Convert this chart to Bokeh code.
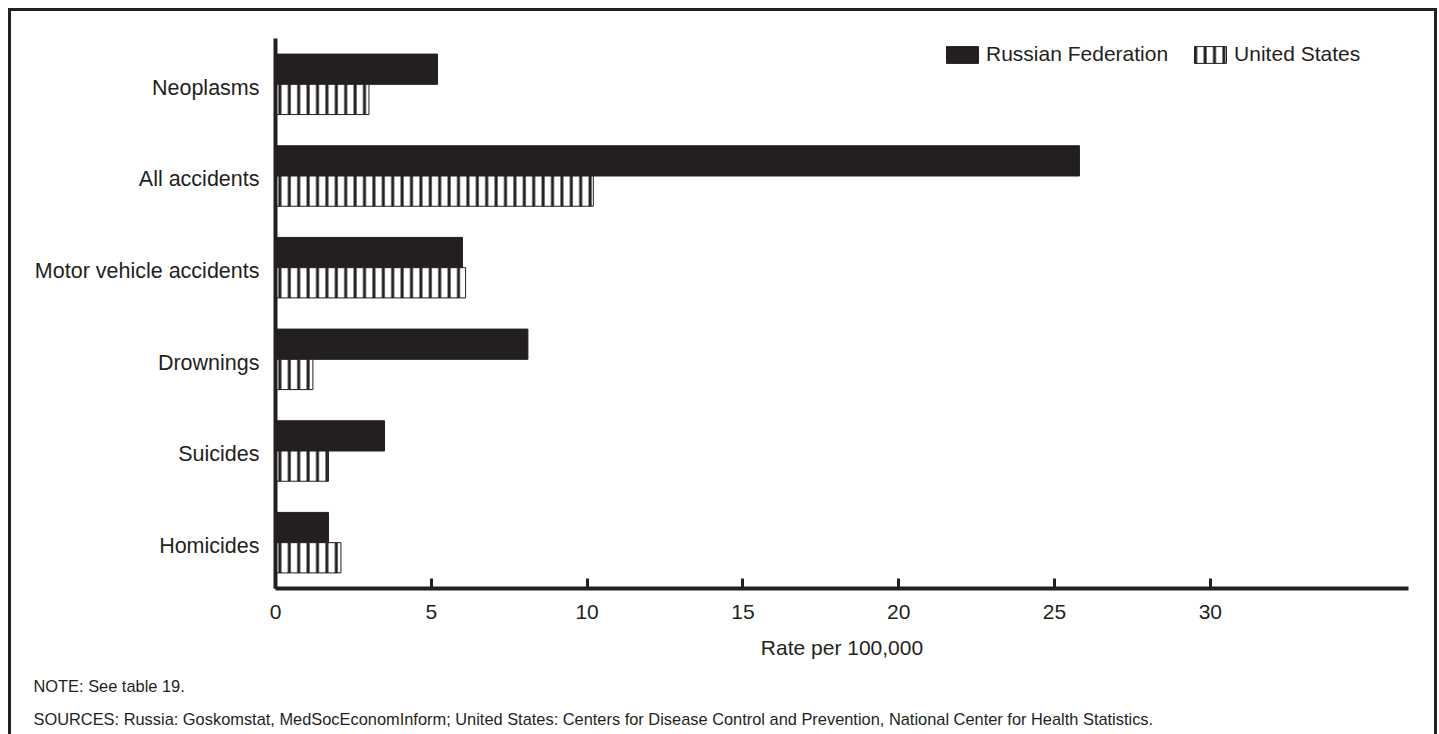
from bokeh.plotting import figure
from bokeh.models import Range1d, FixedTicker, Legend, LegendItem, Title, ColumnDataSource
from bokeh.embed import file_html
from bokeh.resources import INLINE

categories = ["Neoplasms", "All accidents", "Motor vehicle accidents", "Drownings", "Suicides", "Homicides"]
russia = [5.2, 25.8, 6.0, 8.1, 3.5, 1.7]
united_states = [3.0, 10.2, 6.1, 1.2, 1.7, 2.1]
x_ticks = [0, 5, 10, 15, 20, 25, 30]
series_names = ["Russian Federation", "United States"]
note_text = "NOTE: See table 19."
source_text = ("SOURCES: Russia: Goskomstat, MedSocEconomInform; United States: Centers for Disease "
               "Control and Prevention, National Center for Health Statistics.")

INK = "#231f20"
FONT = "Liberation Sans"

n = len(categories)
centers = [n - i - 0.5 for i in range(n)]
bar_h = 0.33
label_shift = 0.035  # labels sit a touch below the bar-pair centre

src_r = ColumnDataSource(dict(y=[c + bar_h / 2 for c in centers], right=russia))
src_u = ColumnDataSource(dict(y=[c - bar_h / 2 for c in centers], right=united_states))

p = figure(width=1429, height=726, output_backend="svg", toolbar_location=None,
           x_range=Range1d(0, 36.36), y_range=Range1d(0, n),
           min_border_left=264, min_border_right=32, min_border_top=27, min_border_bottom=149)
p.styles = {"border": "3px solid " + INK, "border-bottom-width": "0px",
            "margin-left": "8px", "margin-top": "8px"}
p.outline_line_color = None
p.xgrid.visible = False
p.ygrid.visible = False
p.background_fill_color = "white"
p.border_fill_color = "white"

r1 = p.hbar(y="y", right="right", left=0, height=bar_h, source=src_r,
            fill_color=INK, line_color=INK, line_width=1)
r2 = p.hbar(y="y", right="right", left=0, height=bar_h, source=src_u,
            fill_color="white", line_color=INK, line_width=1,
            hatch_pattern="vertical_line", hatch_color=INK, hatch_weight=3, hatch_scale=9.4)

# x axis
xa = p.xaxis[0]
xa.ticker = FixedTicker(ticks=x_ticks)
xa.axis_line_width = 4
xa.axis_line_color = INK
xa.major_tick_in = 10
xa.major_tick_out = 0
xa.major_tick_line_width = 3
xa.major_tick_line_color = INK
xa.minor_tick_line_color = None
xa.major_label_text_font = FONT
xa.major_label_text_font_size = "21px"
xa.major_label_text_color = INK
xa.major_label_standoff = 16
xa.axis_label = "Rate per 100,000"
xa.axis_label_text_font = FONT
xa.axis_label_text_font_size = "21px"
xa.axis_label_text_font_style = "normal"
xa.axis_label_text_color = INK
xa.axis_label_standoff = 14

# y axis
ya = p.yaxis[0]
tick_pos = [c - label_shift for c in centers]
ya.ticker = FixedTicker(ticks=tick_pos)
ya.major_label_overrides = {t: cat for t, cat in zip(tick_pos, categories)}
ya.axis_line_width = 4
ya.axis_line_color = INK
ya.major_tick_in = 0
ya.major_tick_out = 0
ya.minor_tick_line_color = None
ya.major_label_text_font = FONT
ya.major_label_text_font_size = "21.5px"
ya.major_label_text_color = INK
ya.major_label_standoff = 16

legend = Legend(items=[LegendItem(label=series_names[0], renderers=[r1]),
                       LegendItem(label=series_names[1], renderers=[r2])],
                orientation="horizontal", location=(667, 522),
                glyph_width=40, glyph_height=21, label_standoff=4, spacing=22,
                padding=0, margin=0, border_line_color=None, background_fill_alpha=0,
                label_text_font=FONT, label_text_font_size="21px", label_text_color=INK)
p.add_layout(legend)

for txt, sb in [(note_text, 26), (source_text, 0)]:
    p.add_layout(Title(text=txt, align="left", offset=-242, standoff=sb,
                       text_font=FONT, text_font_size="16.4px", text_font_style="normal",
                       text_color=INK), "below")

open("out.html", "w").write(file_html(p, INLINE))
